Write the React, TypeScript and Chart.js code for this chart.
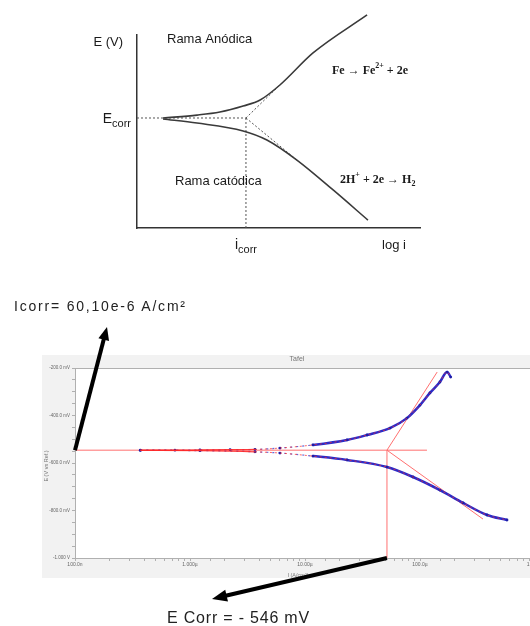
import React, { useEffect, useRef } from 'react';
import { Chart, registerables } from 'chart.js';
Chart.register(...registerables);

// ---------- Top schematic (E vs log i), arbitrary units ----------
const schemeAnodicX = [0.92, 2.12, 2.93, 3.75, 4.35, 5.05, 6.22, 8.13];
const schemeAnodicE = [5.7, 5.85, 6.01, 6.32, 6.63, 7.41, 9.07, 11.04];
const schemeCathodicX = [0.92, 2.12, 3.75, 4.59, 5.65, 6.93, 8.16];
const schemeCathodicE = [5.65, 5.44, 5.03, 4.56, 3.52, 1.97, 0.41];
const schemeEcorr = 5.7;
const schemeIcorr = 3.85;
const schemeAnodicTafelEnd = [5.05, 7.41];
const schemeCathodicTafelEnd = [5.65, 3.52];

// ---------- Bottom measured Tafel plot ----------
const anodicI = [3.7e-7, 7.4e-7, 1.22e-6, 2.23e-6, 3.67e-6, 6.06e-6, 1.17e-5, 2.32e-5, 3.46e-5, 5.48e-5, 7.7e-5, 1.0e-4, 1.22e-4, 1.49e-4, 1.72e-4, 1.85e-4];
const anodicE = [-546, -546, -545, -544, -543, -537, -524, -503, -482, -453, -411, -356, -305, -259, -217, -238];
const cathodicI = [3.7e-7, 1.22e-6, 3.67e-6, 6.06e-6, 1.17e-5, 2.32e-5, 5.16e-5, 8.69e-5, 1.49e-4, 2.37e-4, 3.83e-4, 5.71e-4];
const cathodicE = [-547, -548, -553, -558, -571, -587, -617, -659, -714, -768, -819, -840];
const ecorrMv = -546;
const icorrLine = 5.16e-5;
const horizontalFitEndI = 1.15e-4;
const anodicTafelI = [icorrLine, 1.41e-4];
const anodicTafelE = [ecorrMv, -217];
const cathodicTafelI = [icorrLine, 3.53e-4];
const cathodicTafelE = [ecorrMv, -836];
const sparseBelowI = 1.2e-5;
const xMin = 1e-7;
const xMax = 1e-3;
const yMin = -1000;
const yMax = -200;
const xTickValues = [1e-7, 1e-6, 1e-5, 1e-4, 1e-3];
const xTickLabels = ['100.0n', '1.000µ', '10.00µ', '100.0µ', '1.000m'];
const yTickValues = [-200, -400, -600, -800, -1000];
const yTickLabels = ['-200.0 mV', '-400.0 mV', '-600.0 mV', '-800.0 mV', '-1.000 V'];

const SANS = '"Liberation Sans", Arial, sans-serif';
const SERIF = '"Liberation Serif", "Times New Roman", serif';

type Part = { t: string; font: string; dy?: number };
function drawRich(ctx: CanvasRenderingContext2D, x: number, y: number, parts: Part[], align: 'left' | 'center' | 'right') {
  let total = 0;
  const widths = parts.map((p) => {
    ctx.font = p.font;
    const w = ctx.measureText(p.t).width;
    total += w;
    return w;
  });
  let cx = align === 'left' ? x : align === 'center' ? x - total / 2 : x - total;
  ctx.textAlign = 'left';
  ctx.textBaseline = 'alphabetic';
  parts.forEach((p, i) => {
    ctx.font = p.font;
    ctx.fillText(p.t, cx, y + (p.dy || 0));
    cx += widths[i];
  });
}

function drawArrow(ctx: CanvasRenderingContext2D, x0: number, y0: number, x1: number, y1: number, w: number, hl: number, hw: number) {
  const a = Math.atan2(y1 - y0, x1 - x0);
  const bx = x1 - hl * Math.cos(a);
  const by = y1 - hl * Math.sin(a);
  ctx.lineWidth = w;
  ctx.lineCap = 'butt';
  ctx.beginPath();
  ctx.moveTo(x0, y0);
  ctx.lineTo(bx + Math.cos(a), by + Math.sin(a));
  ctx.stroke();
  ctx.beginPath();
  ctx.moveTo(x1, y1);
  ctx.lineTo(bx + (hw / 2) * Math.sin(a), by - (hw / 2) * Math.cos(a));
  ctx.lineTo(bx - (hw / 2) * Math.sin(a), by + (hw / 2) * Math.cos(a));
  ctx.closePath();
  ctx.fill();
}

const topLabelsPlugin = {
  id: 'topLabels',
  afterDraw(chart: any) {
    const { ctx, chartArea } = chart;
    const x = chart.scales.x;
    const y = chart.scales.y;
    ctx.save();
    ctx.fillStyle = '#1a1a1a';
    const f13 = `13px ${SANS}`;
    drawRich(ctx, chartArea.left - 14, 46, [{ t: 'E (V)', font: f13 }], 'right');
    const ey = y.getPixelForValue(schemeEcorr);
    drawRich(ctx, chartArea.left - 6, ey + 5, [
      { t: 'E', font: `14px ${SANS}` },
      { t: 'corr', font: `11px ${SANS}`, dy: 4 },
    ], 'right');
    const ix = x.getPixelForValue(schemeIcorr);
    drawRich(ctx, ix, chartArea.bottom + 21, [
      { t: 'i', font: `14px ${SANS}` },
      { t: 'corr', font: `11px ${SANS}`, dy: 4 },
    ], 'center');
    drawRich(ctx, chartArea.right - 26, chartArea.bottom + 21, [{ t: 'log i', font: f13 }], 'center');
    drawRich(ctx, 167, 43, [{ t: 'Rama Anódica', font: f13 }], 'left');
    drawRich(ctx, 175, 185, [{ t: 'Rama catódica', font: f13 }], 'left');
    const fb = `bold 12px ${SERIF}`;
    const fs = `bold 8px ${SERIF}`;
    drawRich(ctx, 332, 74, [
      { t: 'Fe → Fe', font: fb },
      { t: '2+', font: fs, dy: -6 },
      { t: ' + 2e', font: fb },
    ], 'left');
    drawRich(ctx, 340, 183, [
      { t: '2H', font: fb },
      { t: '+', font: fs, dy: -6 },
      { t: ' + 2e → H', font: fb },
      { t: '2', font: fs, dy: 3 },
    ], 'left');
    ctx.restore();
  },
};

const bottomDecorPlugin = {
  id: 'bottomDecor',
  beforeDraw(chart: any) {
    const { ctx, chartArea } = chart;
    ctx.save();
    ctx.fillStyle = '#f2f2f2';
    ctx.fillRect(42, 65, chart.width - 42, 223);
    ctx.fillStyle = '#ffffff';
    ctx.fillRect(chartArea.left, chartArea.top, chartArea.right - chartArea.left, chartArea.bottom - chartArea.top);
    ctx.restore();
  },
  afterDatasetsDraw(chart: any) {
    const { ctx, chartArea } = chart;
    ctx.save();
    ctx.strokeStyle = '#b0b0b0';
    ctx.lineWidth = 1;
    ctx.strokeRect(chartArea.left + 0.5, chartArea.top + 0.5, chartArea.right - chartArea.left, chartArea.bottom - chartArea.top);
    ctx.fillStyle = '#777';
    ctx.textAlign = 'center';
    ctx.textBaseline = 'middle';
    ctx.font = `7px ${SANS}`;
    ctx.fillText('Tafel', 297, 69);
    ctx.font = `5.5px ${SANS}`;
    ctx.fillText('I (A/cm²)', 298, 285);
    ctx.save();
    ctx.translate(46.5, (chartArea.top + chartArea.bottom) / 2 + 3);
    ctx.rotate(-Math.PI / 2);
    ctx.fillText('E (V vs Ref.)', 0, 0);
    ctx.restore();
    ctx.restore();
  },
  afterDraw(chart: any) {
    const { ctx } = chart;
    const x = chart.scales.x;
    const y = chart.scales.y;
    ctx.save();
    ctx.fillStyle = '#000';
    ctx.strokeStyle = '#000';
    drawArrow(ctx, x.getPixelForValue(xMin), y.getPixelForValue(ecorrMv), 107, 37, 4, 13, 11);
    drawArrow(ctx, x.getPixelForValue(icorrLine), y.getPixelForValue(yMin), 212, 309, 4, 15, 12);
    ctx.restore();
  },
};

function isMajor(v: number, list: number[]) {
  return list.findIndex((t) => Math.abs(Math.log10(Math.abs(v)) - Math.log10(Math.abs(t))) < 1e-6);
}

export default function App() {
  const topRef = useRef<HTMLCanvasElement>(null);
  const botRef = useRef<HTMLCanvasElement>(null);

  useEffect(() => {
    const pts = (xs: number[], ys: number[]) => xs.map((v, i) => ({ x: v, y: ys[i] }));
    const dashed = {
      borderColor: '#555',
      borderWidth: 1,
      borderDash: [2, 2],
      pointRadius: 0,
      showLine: true,
      fill: false,
    };
    const curve = {
      borderColor: '#3a3a3a',
      borderWidth: 1.6,
      pointRadius: 0,
      showLine: true,
      tension: 0.4,
      cubicInterpolationMode: 'monotone' as const,
      clip: false as any,
      fill: false,
    };
    const hiddenAxis = (fitKey: 'width' | 'height') => ({
      type: 'linear' as const,
      min: 0,
      max: 10,
      ticks: { display: false },
      grid: { display: true, drawOnChartArea: false, drawTicks: false },
      border: { display: true, color: '#333', width: 1.5 },
      afterFit: (s: any) => {
        s[fitKey] = 0;
      },
    });
    const top = new Chart(topRef.current!, {
      type: 'scatter',
      data: {
        datasets: [
          { ...curve, data: pts(schemeAnodicX, schemeAnodicE) },
          { ...curve, data: pts(schemeCathodicX, schemeCathodicE) },
          { ...dashed, data: [{ x: 0, y: schemeEcorr }, { x: schemeIcorr, y: schemeEcorr }] },
          { ...dashed, data: [{ x: schemeIcorr, y: 0 }, { x: schemeIcorr, y: schemeEcorr }] },
          { ...dashed, data: [{ x: schemeIcorr, y: schemeEcorr }, { x: schemeAnodicTafelEnd[0], y: schemeAnodicTafelEnd[1] }] },
          { ...dashed, data: [{ x: schemeIcorr, y: schemeEcorr }, { x: schemeCathodicTafelEnd[0], y: schemeCathodicTafelEnd[1] }] },
        ] as any,
      },
      options: {
        responsive: false,
        animation: false,
        events: [],
        layout: { padding: { left: 137, right: 110, top: 35, bottom: 42 } },
        plugins: { legend: { display: false }, tooltip: { enabled: false } },
        scales: { x: hiddenAxis('height'), y: hiddenAxis('width') } as any,
      },
      plugins: [topLabelsPlugin],
    });

    const red = '#ff7070';
    const fitLine = { borderColor: red, borderWidth: 1, pointRadius: 0, showLine: true, fill: false };
    const sparse = (c: any) => c.p1.parsed.x < sparseBelowI;
    const blue = {
      borderColor: '#2b2bc8',
      backgroundColor: '#1d1da8',
      borderWidth: 2.5,
      pointRadius: 1.4,
      pointBorderWidth: 0,
      showLine: true,
      tension: 0.3,
      cubicInterpolationMode: 'monotone',
      segment: {
        borderWidth: (c: any) => (sparse(c) ? 1.2 : undefined),
        borderDash: (c: any) => (sparse(c) ? [2, 4] : undefined),
        borderColor: (c: any) => (sparse(c) ? 'rgba(43,43,200,0.7)' : undefined),
      },
    };
    const redOverlay = {
      borderColor: 'rgba(255,40,40,0.9)',
      borderWidth: 0.8,
      borderDash: [2, 3],
      pointRadius: 0,
      showLine: true,
      tension: 0.3,
      cubicInterpolationMode: 'monotone',
      segment: {
        borderDash: (c: any) => (c.p1.parsed.x < 5e-6 ? [] : undefined),
        borderWidth: (c: any) => (c.p1.parsed.x < 5e-6 ? 1.2 : undefined),
      },
    };
    const bottom = new Chart(botRef.current!, {
      type: 'scatter',
      data: {
        datasets: [
          { ...redOverlay, data: pts(anodicI, anodicE) },
          { ...redOverlay, data: pts(cathodicI, cathodicE) },
          { ...blue, data: pts(anodicI, anodicE) },
          { ...blue, data: pts(cathodicI, cathodicE) },
          { ...fitLine, data: [{ x: xMin, y: ecorrMv }, { x: horizontalFitEndI, y: ecorrMv }] },
          { ...fitLine, data: [{ x: icorrLine, y: yMin }, { x: icorrLine, y: ecorrMv }] },
          { ...fitLine, data: pts(anodicTafelI, anodicTafelE) },
          { ...fitLine, data: pts(cathodicTafelI, cathodicTafelE) },
        ] as any,
      },
      options: {
        responsive: false,
        animation: false,
        events: [],
        layout: { padding: { left: 35, right: 25, top: 78, bottom: 48 } },
        plugins: { legend: { display: false }, tooltip: { enabled: false } },
        scales: {
          x: {
            type: 'logarithmic',
            min: xMin,
            max: xMax,
            grid: { display: true, drawOnChartArea: false, drawTicks: true, tickLength: 3, color: '#b0b0b0' },
            border: { display: true, color: '#b0b0b0', width: 1 },
            ticks: {
              autoSkip: false,
              maxRotation: 0,
              minRotation: 0,
              padding: 1,
              color: '#666',
              font: { size: 5, family: SANS },
              callback: (v: any) => {
                const k = isMajor(Number(v), xTickValues);
                return k >= 0 ? xTickLabels[k] : '';
              },
            },
            afterFit: (s: any) => {
              s.height = 20;
            },
          },
          y: {
            type: 'linear',
            min: yMin,
            max: yMax,
            grid: { display: true, drawOnChartArea: false, drawTicks: true, tickLength: 3, color: '#b0b0b0' },
            border: { display: true, color: '#b0b0b0', width: 1 },
            ticks: {
              stepSize: 50,
              maxTicksLimit: 40,
              autoSkip: false,
              padding: 2,
              color: '#666',
              font: { size: 4.5, family: SANS },
              callback: (v: any) => {
                const k = yTickValues.indexOf(Math.round(Number(v)));
                return k >= 0 ? yTickLabels[k] : '';
              },
            },
            afterFit: (s: any) => {
              s.width = 40;
            },
          },
        } as any,
      },
      plugins: [bottomDecorPlugin],
    });
    return () => {
      top.destroy();
      bottom.destroy();
    };
  }, []);

  return (
    <div style={{ position: 'absolute', left: 0, top: 0, width: 530, height: 626, overflow: 'hidden', background: '#fff' }}>
      <canvas ref={topRef} width={530} height={270} style={{ position: 'absolute', left: 0, top: 0, width: 530, height: 270 }} />
      <canvas ref={botRef} width={560} height={336} style={{ position: 'absolute', left: 0, top: 290, width: 560, height: 336 }} />
      <div
        style={{
          position: 'absolute',
          left: 14,
          top: 299,
          fontFamily: SANS,
          fontSize: 14,
          lineHeight: '14px',
          letterSpacing: '1.8px',
          color: '#222',
          whiteSpace: 'nowrap',
        }}
      >
        Icorr= 60,10e-6 A/cm²
      </div>
      <div
        style={{
          position: 'absolute',
          left: 167,
          top: 610,
          fontFamily: SANS,
          fontSize: 16,
          lineHeight: '16px',
          letterSpacing: '0.8px',
          color: '#222',
          whiteSpace: 'nowrap',
        }}
      >
        E Corr = - 546 mV
      </div>
    </div>
  );
}
